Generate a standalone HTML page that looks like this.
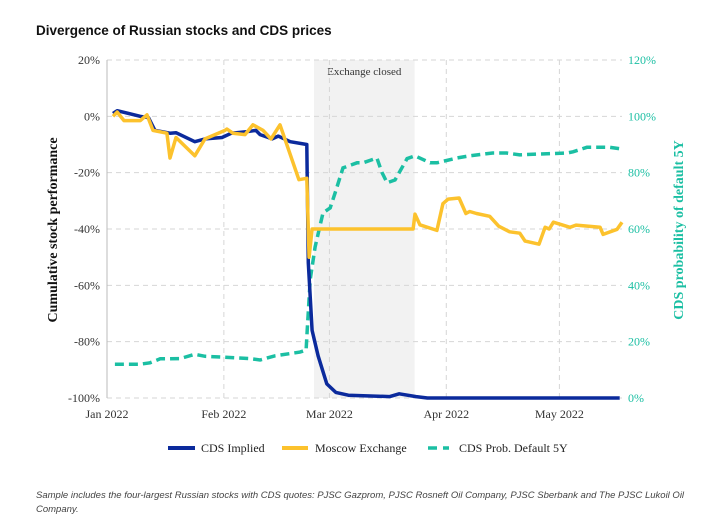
<!DOCTYPE html>
<html><head><meta charset="utf-8"><style>
body{margin:0;background:#fff;width:713px;height:524px;overflow:hidden;font-family:"Liberation Serif",serif}
</style></head><body>
<svg id="c" width="713" height="524" xmlns="http://www.w3.org/2000/svg">
<text x="36" y="35" font-family="Liberation Sans, sans-serif" font-weight="bold" font-size="13.5" fill="#111">Divergence of Russian stocks and CDS prices</text>
<g id="grid"></g>
<g id="marks"></g>
<g id="ax"></g>
<text transform="translate(57,230) rotate(-90)" text-anchor="middle" font-weight="bold" font-size="14" fill="#111">Cumulative stock performance</text>
<text transform="translate(683,230) rotate(-90)" text-anchor="middle" font-weight="bold" font-size="14" fill="#1bbfa3">CDS probability of default 5Y</text>
<g font-size="12" fill="#222">
<g><line x1="168" y1="448" x2="195" y2="448" stroke="#0b2a9c" stroke-width="4"/><text x="201" y="452">CDS Implied</text></g>
<g><line x1="282" y1="448" x2="308" y2="448" stroke="#fcc22d" stroke-width="4"/><text x="315" y="452">Moscow Exchange</text></g>
<g><line x1="428" y1="448" x2="449" y2="448" stroke="#1bbfa3" stroke-width="3.5" stroke-dasharray="9,6"/><text x="459" y="452">CDS Prob. Default 5Y</text></g>
</g>
<g font-family="Liberation Sans, sans-serif" font-style="italic" font-size="9.5" fill="#444">
<text x="36" y="498">Sample includes the four-largest Russian stocks with CDS quotes: PJSC Gazprom, PJSC Rosneft Oil Company, PJSC Sberbank and The PJSC Lukoil Oil</text>
<text x="36" y="512">Company.</text>
</g>
</svg>
<script>
const leftTicks=[20,0,-20,-40,-60,-80,-100];
const rightTicks=[120,100,80,60,40,20,0];
const monthLabels=["Jan 2022","Feb 2022","Mar 2022","Apr 2022","May 2022"];
const monthDays=[0,31,59,90,120];
const closedStart=54.9, closedEnd=81.6;
const cdsDays=[1.6,2.7,8.8,11,12.7,16.7,18.3,23.3,26,30.5,33,36.9,39.5,40.6,43.8,45.4,48.6,53,53.4,54.4,56,58.3,60.7,64,75,77.5,82,85,136];
const cdsVals=[1,2,0,-0.5,-5,-6,-5.8,-9,-8,-7.5,-6,-5.5,-5,-6.5,-8,-7,-9,-10,-52,-76,-85,-95,-98,-99,-99.5,-98.5,-99.5,-100,-100];
const mosDays=[1.6,2.7,4.5,8.8,10.6,12.2,15.9,16.7,18.3,23.3,26,31.3,31.8,33.4,36.6,38.7,41.4,43.5,45.9,50.9,53,53.6,54.4,81.2,81.7,83,87.5,89.1,90.5,93.4,95.2,96.2,98,101.5,103.9,106.8,109.5,110.9,114.6,116.2,117.3,118.4,122.8,124.4,130.8,131.6,135.3,136.6];
const mosVals=[0,1.5,-1.5,-1.5,0.5,-5,-6,-14.8,-7.5,-14,-8,-5,-4.5,-6,-6.5,-3,-5,-8,-3,-22.5,-22,-50,-40,-40,-34.7,-38.5,-40.5,-31,-29.4,-29,-34.5,-33.8,-34.5,-35.5,-39,-41,-41.5,-44.3,-45.4,-39.4,-40,-37.6,-39.4,-38.6,-39.4,-41.9,-40.1,-37.6];
const probDays=[2.1,8.8,11.4,14.1,19.4,23.3,26,31.3,37.9,40.6,44.6,51.2,52.8,53.1,53.9,55.2,57.3,59.2,60.5,62.6,66.3,67.9,71.6,72.9,74.3,76.4,79.6,81.7,85.7,87.5,92.8,96.2,102.3,106,109.5,112.2,122,123.6,127.3,133.4,136.6];
const probVals=[12,12,12.5,13.9,14,15.5,14.8,14.5,14,13.5,15,16.3,17,24,42,53.6,65.7,67.5,72.8,81.7,83.5,83.5,85.2,80.2,76.4,77.4,85,86,83.5,83.5,85.2,86,87,87,86.3,86.5,87,87.4,89,89,88.4];

const X0=107,PX=3.77,yTop=60,yBot=398;
const xS=d=>X0+d*PX;
const yL=v=>yTop+(20-v)/120*(yBot-yTop);
const yR=v=>yBot-v/120*(yBot-yTop);
const NS="http://www.w3.org/2000/svg";
function mk(p,tag,a){const e=document.createElementNS(NS,tag);for(const k in a)e.setAttribute(k,a[k]);p.appendChild(e);return e;}
const grid=document.getElementById('grid'),marks=document.getElementById('marks'),ax=document.getElementById('ax');
const band=mk(grid,'rect',{x:xS(closedStart),y:yTop,width:xS(closedEnd)-xS(closedStart),height:yBot-yTop,fill:'#f2f2f2'});


const bl=mk(grid,'text',{x:(xS(closedStart)+xS(closedEnd))/2,y:75,'text-anchor':'middle','font-size':'11',fill:'#333'});
bl.textContent='Exchange closed';


leftTicks.forEach(v=>{
  const g=mk(grid,'line',{x1:X0,x2:622,y1:yL(v),y2:yL(v),stroke:'#d6d6d6','stroke-dasharray':'5,4'});
  
  
  const t=mk(ax,'text',{x:100,y:yL(v)+4,'text-anchor':'end','font-size':'12',fill:'#333'});t.textContent=v+'%';
  
  
});
rightTicks.forEach(v=>{
  const t=mk(ax,'text',{x:628,y:yR(v)+4,'font-size':'12',fill:'#1bbfa3'});t.textContent=v+'%';
  
  
});
monthDays.forEach((d,i)=>{
  if(i>0){const g=mk(grid,'line',{x1:xS(d),x2:xS(d),y1:yTop,y2:yBot,stroke:'#d6d6d6','stroke-dasharray':'5,4'});
  
  }
  const t=mk(ax,'text',{x:xS(d),y:418,'text-anchor':'middle','font-size':'12',fill:'#333'});t.textContent=monthLabels[i];
  
  
});
const axl=mk(ax,'line',{x1:X0,x2:X0,y1:yTop,y2:yBot,stroke:'#bbb'});


function path(days,vals,ys){return days.map((d,i)=>(i?'L':'M')+xS(d).toFixed(1)+','+ys(vals[i]).toFixed(1)).join('');}
const p3=mk(marks,'path',{d:path(probDays,probVals,yR),fill:'none',stroke:'#1bbfa3','stroke-width':3.5,'stroke-dasharray':'9,5'});


const p1=mk(marks,'path',{d:path(cdsDays,cdsVals,yL),fill:'none',stroke:'#0b2a9c','stroke-width':3.5,'stroke-linejoin':'round'});


const p2=mk(marks,'path',{d:path(mosDays,mosVals,yL),fill:'none',stroke:'#fcc22d','stroke-width':3.5,'stroke-linejoin':'round'});


</script>
</body></html>
